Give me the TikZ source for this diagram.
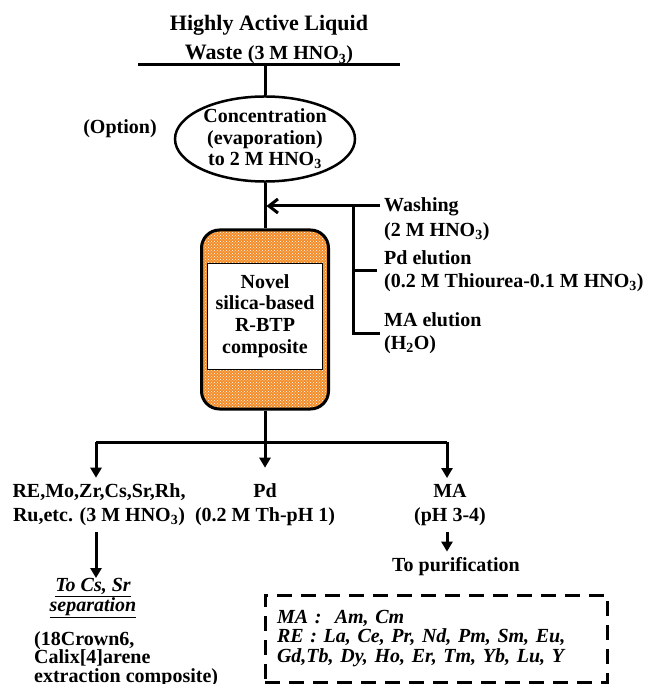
\documentclass[tikz,border=0pt]{standalone}
\usepackage{fontspec}
\setmainfont{Liberation Serif}
\usepackage{xcolor}
\usepackage{tikz}
\usetikzlibrary{arrows.meta,patterns,shapes.geometric,positioning}
\definecolor{resin}{RGB}{243,140,40}

\begin{document}
\begin{tikzpicture}[x=1pt, y=-1pt,
	txt/.style={font=\fontsize{20}{23}\selectfont\bfseries, inner xsep=0, inner ysep=6, align=center},
	ln/.style={line width=3},
	arr/.style={line width=3, -{Triangle[width=11pt,length=10pt]}}]

\useasboundingbox (0,0) rectangle (647,684);

\node[txt, font=\fontsize{22}{29}\selectfont\bfseries] (title) at (269,40) {Highly Active Liquid\\Waste {\fontsize{20}{23}\selectfont(3 M HNO\textsubscript{3})}};
\coordinate (feedL) at (138,65);
\coordinate (feedR) at (400,65);
\draw[ln] (feedL)--(feedR);

\node[txt, ellipse, draw, line width=2.5, inner sep=0, minimum width=180, minimum height=82, font=\fontsize{20}{21.5}\selectfont\bfseries] (conc) at (265,139) {Concentration\\(evaporation)\\to 2 M HNO\textsubscript{3}};
\node[txt] (opt) at (120,129) {(Option)};
\draw[ln] (conc.north |- feedL)--(conc.north);

\node[draw, line width=3, rounded corners=18, minimum width=127, minimum height=179, preaction={fill=resin}, pattern=crosshatch dots, pattern color=white] (col) at (265,319.5) {};
\node[txt, draw, line width=1, fill=white, minimum width=115, minimum height=106, font=\fontsize{20}{21.7}\selectfont\bfseries] (comp) at (265,316) {Novel\\silica-based\\R-BTP\\composite};
\draw[ln] (conc.south)--(col.north);

\coordinate (jt) at (380,206);
\coordinate (jm) at (377,270);
\coordinate (jb) at (380,333);
\coordinate (rt) at (353,206);
\coordinate (rb) at (353,333);
\draw[line width=3, shorten >=1.5, -{Straight Barb[length=9pt,width=14pt]}] (jt)--(col.north |- jt);
\draw[ln] (rt)--(rb)--(jb);
\draw[ln] (rt |- jm)--(jm);
\node[txt, align=left, anchor=west, font=\fontsize{20}{25}\selectfont\bfseries] (wash) at (384,219) {Washing\\(2 M HNO\textsubscript{3})};
\node[txt, align=left, anchor=west] (pdel) at (384,271.5) {Pd elution\\(0.2 M Thiourea-0.1 M HNO\textsubscript{3})};
\node[txt, align=left, anchor=west] (mael) at (384,333.5) {MA elution\\(H\textsubscript{2}O)};

\coordinate (split) at (265,442);
\coordinate (bl) at (96,442);
\coordinate (br) at (447,442);
\draw[ln] (col.south)--(split);
\draw[ln] (bl)--(br);

\node[txt, font=\fontsize{20}{24}\selectfont\bfseries] (reout) at (99,505) {RE,Mo,Zr,Cs,Sr,Rh,\\Ru,etc. (3 M HNO\textsubscript{3})};
\node[txt, font=\fontsize{20}{24}\selectfont\bfseries] (pdout) at (265,505) {Pd\\(0.2 M Th-pH 1)};
\node[txt, font=\fontsize{20}{24}\selectfont\bfseries] (maout) at (450,505) {MA\\(pH 3-4)};
\draw[arr] (bl)--(bl |- reout.north);
\draw[arr, shorten >=10] (split)--(split |- pdout.north);
\draw[arr] (br)--(br |- maout.north);

\node[txt, font=\fontsize{20}{20}\selectfont\bfseries\itshape] (cssr) at (93,598) {\underline{To Cs, Sr}\\\underline{separation}};
\node[txt, align=left, anchor=west, font=\fontsize{20}{18.5}\selectfont\bfseries] (crown) at (34,659) {(18Crown6,\\Calix[4]arene\\extraction composite)};
\draw[arr, shorten >=-6] (reout.south -| bl)--(bl |- cssr.north);

\node[txt] (purif) at (456,567) {To purification};
\draw[arr] (br |- maout.south)--(br |- purif.north);

\node[draw, line width=3, dash pattern=on 15 off 9, minimum width=342, minimum height=87, text width=318, inner xsep=12, align=left, font=\fontsize{20}{19.5}\selectfont\bfseries\itshape] (legend) at (436,638.5) {MA :\ \ Am, Cm\\RE : La, Ce, Pr, Nd, Pm, Sm, Eu,\\Gd,Tb, Dy, Ho, Er, Tm, Yb, Lu, Y};

\end{tikzpicture}
\end{document}
